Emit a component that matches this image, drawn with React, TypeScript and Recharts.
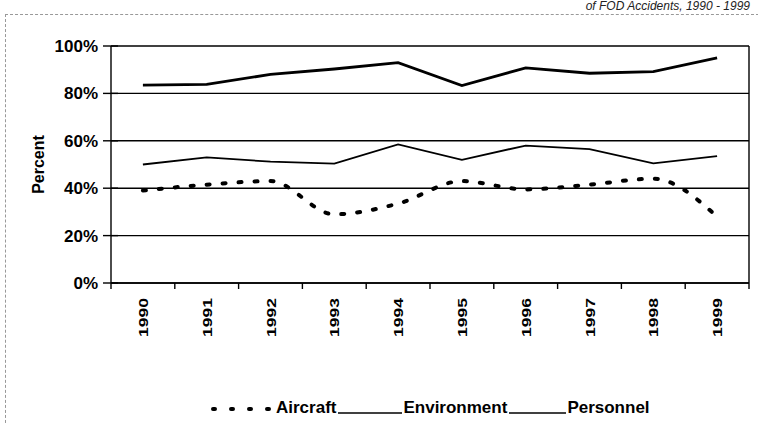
import React from "react";
import { CartesianGrid, Line, LineChart, XAxis, YAxis } from "recharts";

const years = ["1990", "1991", "1992", "1993", "1994", "1995", "1996", "1997", "1998", "1999"];
const aircraft = [39, 41.5, 43, 29, 33.5, 43, 39.5, 41.5, 44, 28];
const environment = [50, 53, 51.2, 50.4, 58.5, 52, 58, 56.5, 50.5, 53.5];
const personnel = [83.5, 83.8, 88, 90.3, 93, 83.3, 90.8, 88.5, 89.2, 95];
const yTicks = [0, 20, 40, 60, 80, 100];

const series = [
  { key: "aircraft", name: "Aircraft", width: 4, dash: "3 13", curve: "monotone" as const, sample: 64 },
  { key: "environment", name: "Environment", width: 1.8, dash: undefined, curve: "linear" as const, sample: 64 },
  { key: "personnel", name: "Personnel", width: 2.8, dash: undefined, curve: "linear" as const, sample: 57 },
];

const data = years.map((year, i) => ({
  year,
  aircraft: aircraft[i],
  environment: environment[i],
  personnel: personnel[i],
}));

const W = 758;
const H = 423;
const margin = { top: 46, right: 9, left: 51, bottom: 80 };
const yAxisWidth = 60;
const bandWidth = (W - margin.left - margin.right - yAxisWidth) / years.length;
const font = "'Liberation Sans', Arial, sans-serif";

function YTick(props: any) {
  const { x, y, payload } = props;
  return (
    <g>
      <line x1={x + 6} x2={x + 21} y1={y} y2={y} stroke="#000" strokeWidth={1.4} />
      <text x={x + 1} y={y} dy={6} textAnchor="end" fontSize={17} fontWeight="bold" fontFamily={font} fill="#000">
        {payload.value}%
      </text>
    </g>
  );
}

function XTick(props: any) {
  const { x, y, payload, index } = props;
  const axisY = y - 12;
  return (
    <g>
      <line x1={x - bandWidth / 2} x2={x - bandWidth / 2} y1={axisY} y2={axisY + 6} stroke="#000" strokeWidth={1.4} />
      {index === years.length - 1 && (
        <line x1={x + bandWidth / 2} x2={x + bandWidth / 2} y1={axisY} y2={axisY + 6} stroke="#000" strokeWidth={1.4} />
      )}
      <text
        transform={`translate(${x + 5}, ${y + 3})rotate(-90)scale(1.35, 1)`}
        textAnchor="end"
        fontSize={13}
        fontWeight="bold"
        fontFamily={font}
        fill="#000"
      >
        {payload.value}
      </text>
    </g>
  );
}

function ChartLegend() {
  return (
    <div
      style={{
        position: "absolute",
        left: 209,
        top: 398,
        display: "flex",
        alignItems: "center",
        fontFamily: font,
        fontWeight: "bold",
        fontSize: 17,
        color: "#000",
      }}
    >
      {series.map((s) => (
        <div key={s.key} style={{ display: "flex", alignItems: "center", marginRight: 2 }}>
          <svg width={s.sample} height={20} style={{ marginRight: s.dash ? 3 : 1 }}>
            <line
              x1={s.dash ? 4 : 0}
              x2={s.sample}
              y1={s.dash ? 11 : 15}
              y2={s.dash ? 11 : 15}
              stroke="#000"
              strokeWidth={s.dash ? 4 : 1.5}
              strokeLinecap={s.dash ? "round" : "butt"}
              strokeDasharray={s.dash ? "2 16" : undefined}
            />
          </svg>
          <span>{s.name}</span>
        </div>
      ))}
    </div>
  );
}

export default function App() {
  return (
    <div style={{ position: "absolute", left: 0, top: 0, width: W, height: H, overflow: "hidden", background: "#fff" }}>
      <div style={{ position: "absolute", left: 5, top: 14, width: W, height: H, borderTop: "1px dashed #999", borderLeft: "1px dashed #999" }} />
      <div
        style={{
          position: "absolute",
          right: 8,
          top: 0,
          fontFamily: font,
          fontStyle: "italic",
          fontSize: 12,
          lineHeight: "13px",
          color: "#222",
          whiteSpace: "nowrap",
        }}
      >
        of FOD Accidents, 1990 - 1999
      </div>
      <LineChart width={W} height={H} data={data} margin={margin}>
        <CartesianGrid
          stroke="#000"
          strokeWidth={1.4}
          strokeOpacity={1}
          verticalCoordinatesGenerator={({ offset }: any) => [offset.left + offset.width]}
        />
        <XAxis
          dataKey="year"
          height={60}
          interval={0}
          padding={{ left: bandWidth / 2, right: bandWidth / 2 }}
          tickSize={6}
          tickMargin={6}
          tickLine={false}
          axisLine={{ stroke: "#000", strokeWidth: 1.4 }}
          tick={<XTick />}
        />
        <YAxis
          domain={[0, 100]}
          ticks={yTicks}
          width={yAxisWidth}
          tickSize={8}
          tickMargin={6}
          tickLine={false}
          axisLine={{ stroke: "#000", strokeWidth: 1.4 }}
          tick={<YTick />}
          label={{
            value: "Percent",
            angle: -90,
            position: "left",
            offset: 13,
            style: { fontFamily: font, fontWeight: "bold", fontSize: 16, fill: "#000", textAnchor: "middle" },
          }}
        />
        {series.map((s) => (
          <Line
            key={s.key}
            dataKey={s.key}
            name={s.name}
            type={s.curve}
            stroke="#000"
            strokeWidth={s.width}
            strokeDasharray={s.dash}
            strokeLinecap={s.dash ? "round" : "butt"}
            dot={false}
            activeDot={false}
            isAnimationActive={false}
          />
        ))}
      </LineChart>
      <ChartLegend />
    </div>
  );
}
